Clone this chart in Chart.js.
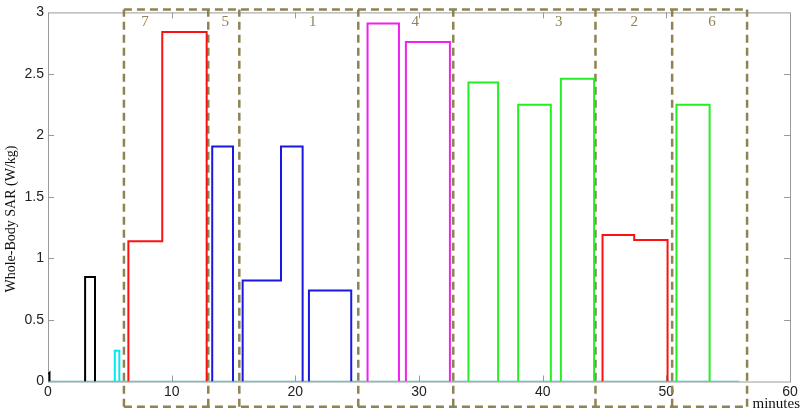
<!DOCTYPE html>
<html>
<head>
<meta charset="utf-8">
<script src="https://cdn.jsdelivr.net/npm/chart.js@4"></script>
<style>
  body { margin: 0; background: #fff; }
  #wrap { width: 800px; height: 411px; }
</style>
</head>
<body>
<div id="wrap"><canvas id="sarChart" width="800" height="411"></canvas></div>
<script>
// step traces, times in minutes and SAR values in W/kg
const blackT = [3.0, 3.0, 3.8, 3.8];
const blackV = [0, 0.85, 0.85, 0];
const blipT = [0.02, 0.12, 0.12];
const blipV = [0.06, 0.07, 0];
const cyanT = [5.4, 5.4, 5.77, 5.77];
const cyanV = [0, 0.25, 0.25, 0];
const red1T = [6.5, 6.5, 9.24, 9.24, 12.83, 12.83];
const red1V = [0, 1.14, 1.14, 2.84, 2.84, 0];
const blue1T = [13.28, 13.28, 14.96, 14.96];
const blue1V = [0, 1.91, 1.91, 0];
const blue2T = [15.74, 15.74, 18.84, 18.84, 20.59, 20.59];
const blue2V = [0, 0.82, 0.82, 1.91, 1.91, 0];
const blue3T = [21.1, 21.1, 24.52, 24.52];
const blue3V = [0, 0.74, 0.74, 0];
const mag1T = [25.84, 25.84, 28.38, 28.38];
const mag1V = [0, 2.91, 2.91, 0];
const mag2T = [28.94, 28.94, 32.5, 32.5];
const mag2V = [0, 2.76, 2.76, 0];
const green1T = [34.0, 34.0, 36.4, 36.4];
const green1V = [0, 2.43, 2.43, 0];
const green2T = [38.02, 38.02, 40.66, 40.66];
const green2V = [0, 2.25, 2.25, 0];
const green3T = [41.47, 41.47, 44.16, 44.16];
const green3V = [0, 2.46, 2.46, 0];
const red2T = [44.84, 44.84, 47.4, 47.4, 50.1, 50.1];
const red2V = [0, 1.19, 1.19, 1.15, 1.15, 0];
const green4T = [50.82, 50.82, 53.5, 53.5];
const green4V = [0, 2.25, 2.25, 0];
const baseT = [0, 55.9];
const baseV = [0, 0];

// dashed boxes around the exposure phases
const boxEdges = [6.14, 12.96, 15.47, 25.09, 32.77, 44.27, 50.47, 56.53];
const boxTop = 3.023;
const boxBottom = -0.205;
const boxLabels = ['7', '5', '1', '4', '3', '2', '6'];
const boxLabelX = [7.84, 14.34, 21.4, 29.7, 41.3, 47.4, 53.7];
const boxLabelY = 2.92;

const xTicks = [0, 10, 20, 30, 40, 50, 60];
const yTicks = [0, 0.5, 1, 1.5, 2, 2.5, 3];
const yTitle = 'Whole-Body SAR (W/kg)';
const xTitle = 'minutes';

const olive = '#8e8352';

function pts(t, v) {
    return t.map((x, i) => ({ x: x, y: v[i] }));
}

function boxPoints() {
    const first = boxEdges[0], last = boxEdges[boxEdges.length - 1];
    let p = [{ x: first, y: boxTop }, { x: last, y: boxTop }, { x: last, y: null },
             { x: first, y: boxBottom }, { x: last, y: boxBottom }, { x: last, y: null }];
    boxEdges.forEach(e => {
        p.push({ x: e, y: boxBottom }, { x: e, y: boxTop }, { x: e, y: null });
    });
    return p;
}

function trace(t, v, color) {
    return {
        data: pts(t, v),
        borderColor: color,
        borderWidth: 2,
        pointRadius: 0,
        showLine: true,
        fill: false,
        tension: 0
    };
}

const axesBox = {
    id: 'axesBox',
    beforeDatasetsDraw(chart) {
        const { ctx, chartArea: a, scales } = chart;
        ctx.save();
        ctx.strokeStyle = '#9a9a9a';
        ctx.lineWidth = 1;
        ctx.strokeRect(a.left + 0.5, a.top + 0.5, a.right - a.left, a.bottom - a.top);
        ctx.beginPath();
        xTicks.slice(1, -1).forEach(v => {
            const px = Math.round(scales.x.getPixelForValue(v)) + 0.5;
            ctx.moveTo(px, a.bottom); ctx.lineTo(px, a.bottom - 6);
            ctx.moveTo(px, a.top); ctx.lineTo(px, a.top + 6);
        });
        yTicks.slice(1, -1).forEach(v => {
            const py = Math.round(scales.y.getPixelForValue(v)) + 0.5;
            ctx.moveTo(a.right, py); ctx.lineTo(a.right - 6, py);
            ctx.moveTo(a.left, py); ctx.lineTo(a.left + 6, py);
        });
        ctx.stroke();
        ctx.restore();
    },
    afterDraw(chart) {
        const { ctx, scales } = chart;
        ctx.save();
        ctx.fillStyle = olive;
        ctx.font = '15px "Liberation Serif"';
        ctx.textAlign = 'center';
        ctx.textBaseline = 'middle';
        boxLabels.forEach((l, i) => {
            ctx.fillText(l, scales.x.getPixelForValue(boxLabelX[i]), scales.y.getPixelForValue(boxLabelY));
        });
        ctx.fillStyle = '#111';
        ctx.font = '15px "Liberation Serif"';
        ctx.textAlign = 'right';
        ctx.fillText(xTitle, 800, 404);
        ctx.translate(11, 219);
        ctx.rotate(-Math.PI / 2);
        ctx.textAlign = 'center';
        ctx.font = '14px "Liberation Serif"';
        ctx.fillText(yTitle, 0, 0);
        ctx.restore();
    }
};

new Chart(document.getElementById('sarChart'), {
    type: 'scatter',
    data: {
        datasets: [
            trace(blackT, blackV, '#000000'),
            trace(blipT, blipV, '#000000'),
            trace(cyanT, cyanV, '#00e8f0'),
            trace(red1T, red1V, '#ff1010'),
            trace(blue1T, blue1V, '#1818e0'),
            trace(blue2T, blue2V, '#1818e0'),
            trace(blue3T, blue3V, '#1818e0'),
            trace(mag1T, mag1V, '#f020f0'),
            trace(mag2T, mag2V, '#f020f0'),
            trace(green1T, green1V, '#22ee22'),
            trace(green2T, green2V, '#22ee22'),
            trace(green3T, green3V, '#22ee22'),
            trace(red2T, red2V, '#ff1010'),
            trace(green4T, green4V, '#22ee22'),
            Object.assign(trace(baseT, baseV, '#2bb3b3'), { borderWidth: 1.5 }),
            Object.assign(trace([], [], olive), {
                data: boxPoints(),
                borderWidth: 2.5,
                borderDash: [8, 5],
                spanGaps: false,
                clip: false
            })
        ]
    },
    options: {
        responsive: false,
        animation: false,
        layout: { padding: { top: 8, right: 10, left: 0, bottom: 0 } },
        plugins: {
            legend: { display: false },
            tooltip: { enabled: false }
        },
        scales: {
            x: {
                type: 'linear',
                min: 0,
                max: 60,
                afterFit: s => { s.height = 29.5; },
                afterBuildTicks: s => { s.ticks = xTicks.map(v => ({ value: v })); },
                grid: { display: false, drawTicks: false },
                border: { display: false },
                ticks: {
                    padding: 2, color: '#222',
                    font: { family: 'Liberation Sans', size: 14 },
                    callback: v => String(v)
                }
            },
            y: {
                min: 0,
                max: 3,
                afterFit: s => { s.width = 48; },
                afterBuildTicks: s => { s.ticks = yTicks.map(v => ({ value: v })); },
                grid: { display: false, drawTicks: false },
                border: { display: false },
                ticks: {
                    padding: 4, color: '#222',
                    font: { family: 'Liberation Sans', size: 14 },
                    callback: v => String(v)
                }
            }
        }
    },
    plugins: [axesBox]
});
</script>
</body>
</html>
